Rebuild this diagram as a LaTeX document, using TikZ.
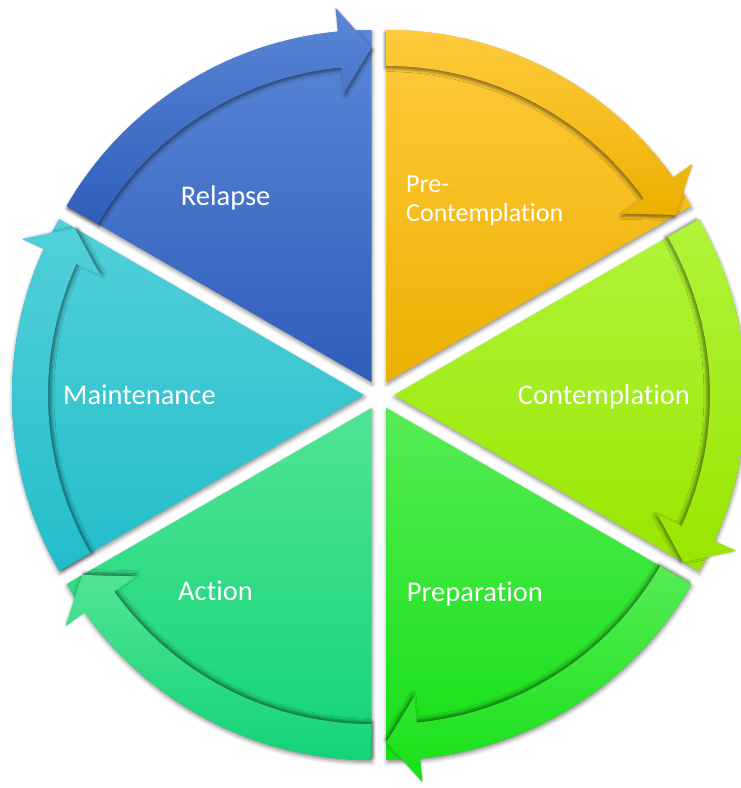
\documentclass[tikz,border=0pt]{standalone}
\usepackage{fontspec}
\setmainfont{Carlito}[Ligatures={NoCommon}]
\usetikzlibrary{calc,shadows.blur}
\tikzset{
  seglabel/.style={text=white, inner sep=0pt, font=\fontsize{28.5}{32}\selectfont},
  wedgeshadow/.style={blur shadow={shadow xshift=0.5pt, shadow yshift=-2.5pt, shadow blur radius=4pt, shadow opacity=45}},
}
\definecolor{relT}{HTML}{5B87D7}\definecolor{relB}{HTML}{2F5EBA}
\definecolor{preT}{HTML}{FFCB3D}\definecolor{preB}{HTML}{ECB000}
\definecolor{conT}{HTML}{B0F43A}\definecolor{conB}{HTML}{98E600}
\definecolor{prpT}{HTML}{55EC55}\definecolor{prpB}{HTML}{16E016}
\definecolor{actT}{HTML}{50E495}\definecolor{actB}{HTML}{12D378}
\definecolor{mntT}{HTML}{52D0D8}\definecolor{mntB}{HTML}{22BDCA}
\newcommand{\drawwedge}[4]{%
  \pgfmathsetmacro{\sa}{#1+30}%
  \pgfmathsetmacro{\ea}{#1-30}%
  \coordinate (#4) at ($(C)+(#1:15)$);
  \path[wedgeshadow, top color=#2, bottom color=#3] (#4) -- ($(#4)+(\sa:352)$) arc[start angle=\sa, end angle=\ea, radius=352] -- cycle;
}
\newcommand{\drawarrow}[4]{%
  \pgfmathsetmacro{\sa}{#1+30}%
  \pgfmathsetmacro{\ea}{#1-30}%
  \pgfmathsetmacro{\ha}{#1-24.5}%
  \pgfmathsetmacro{\sx}{-3*cos(#1)}%
  \pgfmathsetmacro{\sy}{-3*sin(#1)}%
  \path[blur shadow={shadow xshift=\sx pt, shadow yshift=\sy pt, shadow blur radius=3pt, shadow opacity=45}, top color=#2, bottom color=#3]
    ($(#4)+(\sa:352)$) arc[start angle=\sa, end angle=\ha, radius=352]
    -- ($(#4)+(\ha:376)$) -- ($(#4)+(\ea:334)$) -- ($(#4)+(\ha:290)$) -- ($(#4)+(\ha:316)$)
    arc[start angle=\ha, end angle=\sa, radius=316] -- cycle;
}
\begin{document}
\begin{tikzpicture}[x=1pt,y=1pt]
\useasboundingbox (0,0) rectangle (741,788);
\clip (0,0) rectangle (741,788);
\coordinate (C) at (379,393);
\drawwedge{120}{relT}{relB}{Arel}
\drawwedge{60}{preT}{preB}{Apre}
\drawwedge{0}{conT}{conB}{Acon}
\drawwedge{-60}{prpT}{prpB}{Aprp}
\drawwedge{-120}{actT}{actB}{Aact}
\drawwedge{180}{mntT}{mntB}{Amnt}
\drawarrow{120}{relT}{relB}{Arel}
\drawarrow{60}{preT}{preB}{Apre}
\drawarrow{0}{conT}{conB}{Acon}
\drawarrow{-60}{prpT}{prpB}{Aprp}
\drawarrow{-120}{actT}{actB}{Aact}
\drawarrow{180}{mntT}{mntB}{Amnt}
\node[seglabel, anchor=base west] (relapse) at (180.7,582) {Relapse};
\node[seglabel, font=\fontsize{26}{29}\selectfont, align=left, anchor=base west] (precon) at (406,566) {Pre-\\Contemplation};
\node[seglabel, anchor=base west] (contemp) at (517.7,383) {Contemplation};
\node[seglabel, anchor=base west] (prep) at (406.7,186) {Preparation};
\node[seglabel, anchor=base west] (action) at (178,187) {Action};
\node[seglabel, anchor=base west] (maint) at (63,383) {Maintenance};
\end{tikzpicture}
\end{document}
